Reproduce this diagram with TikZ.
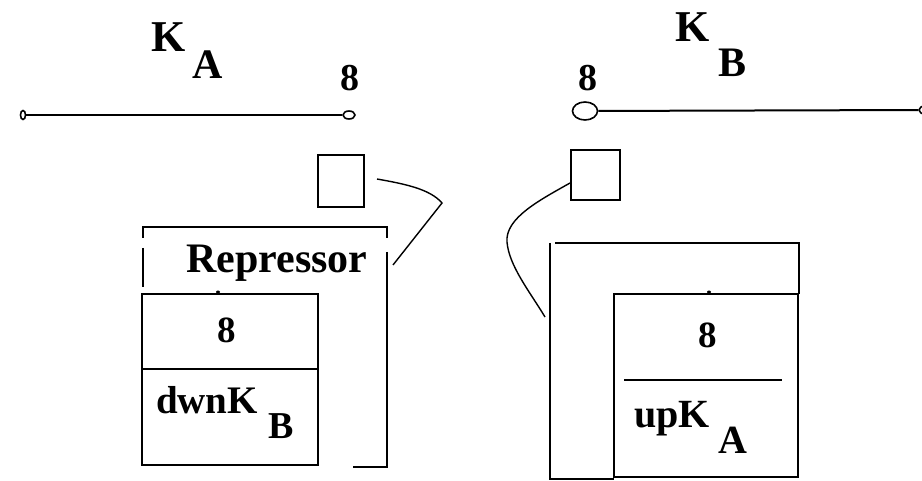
\documentclass[tikz,border=0pt]{standalone}
\usepackage{fontspec}
\setmainfont{Liberation Serif}
\usetikzlibrary{shapes.geometric,calc}

\begin{document}
\begin{tikzpicture}[x=0.5pt, y=-0.5pt, line width=1pt,
  lbl/.style={inner sep=0pt, anchor=base, font=\bfseries\fontsize{#1}{#1}\selectfont},
  lbl/.default=20,
  endpt/.style={draw, ellipse, inner sep=0pt, fill=white, line width=0.8pt},
  sq/.style={draw, rectangle, inner sep=0pt},
  link/.style={line width=0.7pt}]
  \useasboundingbox (0,0) rectangle (922,481);

  % strand A with its ends
  \node[endpt, minimum width=2.5pt, minimum height=4.5pt] (a0) at (23,115) {};
  \node[endpt, minimum width=6pt, minimum height=4pt] (a1) at (349,115) {};
  \draw (a0) -- (a1);
  \node[lbl=22] (kA) at (169,52) {K};
  \node[lbl=21] (kAsub) at (208,79) {A};
  \node[lbl=19] (nA) at (350,91) {8};

  % strand B
  \node[endpt, minimum width=12.5pt, minimum height=9pt] (b0) at (585,111) {};
  \node[endpt, minimum width=6pt, minimum height=4pt] (b1) at (925,110) {};
  \draw (b0) -- (b1);
  \node[lbl=22] (kB) at (693,42) {K};
  \node[lbl=21] (kBsub) at (733,77) {B};
  \node[lbl=19] (nB) at (588,91) {8};

  % small squares
  \node[sq, minimum width=23pt, minimum height=26pt] (sqA) at (341,181) {};
  \node[sq, minimum width=24.5pt, minimum height=25pt] (sqB) at (595.5,175) {};

  % repressor box
  \draw (143,238) -- (143,227) -- (387,227) -- (387,238);
  \draw (143,248) -- (143,287);
  \draw (387,252) -- (387,467) -- (353,467);
  \node[lbl=21] (rep) at (277,272) {Repressor};
  \node[draw, minimum width=88pt, minimum height=85.5pt, inner sep=0pt] (bxA) at (230,379.5) {};
  \draw (bxA.west |- 0,369) -- (bxA.east |- 0,369);
  \fill (218,292) ellipse (2 and 1.5);
  \node[lbl=18.5] (eA) at (227,342) {8};
  \node[lbl=19.5] (dwn) at (207,413) {dwnK};
  \node[lbl=19] (dwnsub) at (281,438) {B};

  % right box
  \draw (555,243) -- (799,243) -- (799,294);
  \draw (550,243) -- (550,479) -- (614,479);
  \node[draw, minimum width=92pt, minimum height=91.5pt, inner sep=0pt] (bxB) at (706,385.5) {};
  \draw (624,380) -- (782,380);
  \fill (709,292) ellipse (2 and 1.5);
  \node[lbl=18.5] (eB) at (708,347) {8};
  \node[lbl=20] (up) at (672,427) {upK};
  \node[lbl=20] (upsub) at (733,453) {A};

  % links from squares
  \coordinate (tipA) at (393,265);
  \coordinate (tipB) at (545,317);
  \draw[link] ($(sqA.east)+(12,-2)$) .. controls (405,184) and (430,189) .. (442,203) -- (tipA);
  \draw[link] ($(sqB.west)+(0,8)$) .. controls (540,200) and (505,218) .. (507,242)
    .. controls (509,266) and (530,292) .. (tipB);
\end{tikzpicture}
\end{document}
